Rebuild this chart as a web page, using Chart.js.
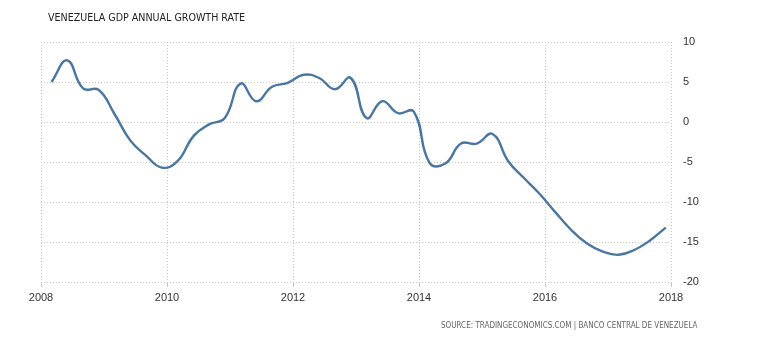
<!DOCTYPE html>
<html>
<head>
<meta charset="utf-8">
<script src="https://cdn.jsdelivr.net/npm/chart.js@4/dist/chart.umd.min.js"></script>
<style>
  html, body { margin: 0; padding: 0; background: #fff; }
  #wrap { position: relative; width: 770px; height: 340px; }
  #title {
    position: absolute; left: 48px; top: 11px;
    font: 10.6px "DejaVu Sans Condensed", "DejaVu Sans", sans-serif;
    color: #222; white-space: nowrap;
  }
  #source {
    position: absolute; left: 441px; top: 321px;
    font: 8px "DejaVu Sans Condensed", "DejaVu Sans", sans-serif;
    color: #666; white-space: nowrap;
  }
</style>
</head>
<body>
<div id="wrap">
  <canvas id="chart" width="770" height="340"></canvas>
  <div id="title">VENEZUELA GDP ANNUAL GROWTH RATE</div>
  <div id="source">SOURCE: TRADINGECONOMICS.COM | BANCO CENTRAL DE VENEZUELA</div>
</div>
<script>
// Quarterly periods (month of observation) and year-on-year GDP growth, %
const periods = [
  '2008-03','2008-06','2008-09','2008-12',
  '2009-03','2009-06','2009-09','2009-12',
  '2010-03','2010-06','2010-09','2010-12',
  '2011-03','2011-06','2011-09','2011-12',
  '2012-03','2012-06','2012-09','2012-12',
  '2013-03','2013-06','2013-09','2013-12',
  '2014-03','2014-06','2014-09','2014-12',
  '2015-03','2015-06','2015-09','2015-12',
  '2016-03','2016-06','2016-09','2016-12',
  '2017-03','2017-06','2017-09','2017-12'
];
const growth = [
  5.0, 7.7, 4.2, 4.0,
  1.0, -2.3, -4.2, -5.7,
  -4.9, -1.8, -0.3, 0.5,
  4.8, 2.6, 4.4, 4.9,
  5.9, 5.5, 4.1, 5.5,
  0.5, 2.6, 1.1, 1.3,
  -5.1, -5.2, -2.7, -2.7,
  -1.5, -4.9, -7.0, -9.0,
  -11.3, -13.5, -15.2, -16.2,
  -16.6, -16.0, -14.8, -13.2
];
const yearTicks = [2008, 2010, 2012, 2014, 2016, 2018];
const valueTicks = [-20, -15, -10, -5, 0, 5, 10];

// decimal year at the first day of each period's month
const toYear = p => {
  const [y, m] = p.split('-').map(Number);
  return y + (m - 1) / 12;
};
const points = periods.map((p, i) => ({ x: toYear(p), y: growth[i] }));

const gridColor = '#c8c8c8';
const tickFont = { family: '"Liberation Sans", Arial, sans-serif', size: 11 };

new Chart(document.getElementById('chart'), {
  type: 'line',
  data: {
    datasets: [{
      data: points,
      borderColor: '#4a76a0',
      borderWidth: 2.4,
      pointRadius: 0,
      tension: 0.45,
      fill: false
    }]
  },
  options: {
    responsive: false,
    animation: false,
    layout: { padding: { left: 41, top: 42, right: 0, bottom: 0 } },
    plugins: { legend: { display: false }, tooltip: { enabled: false } },
    scales: {
      x: {
        type: 'linear',
        min: yearTicks[0],
        max: yearTicks[yearTicks.length - 1],
        afterBuildTicks: s => { s.ticks = yearTicks.map(v => ({ value: v })); },
        afterFit: s => { s.height = 58; },
        grid: { color: gridColor, lineWidth: 1, tickLength: 5 },
        border: { display: false, dash: [1, 2] },
        ticks: { color: '#333', font: tickFont, padding: 4, maxRotation: 0, callback: v => String(v) }
      },
      y: {
        position: 'right',
        min: valueTicks[0],
        max: valueTicks[valueTicks.length - 1],
        afterBuildTicks: s => { s.ticks = valueTicks.map(v => ({ value: v })); },
        afterFit: s => { s.width = 99; },
        grid: { color: gridColor, lineWidth: 1, drawTicks: false },
        border: { display: false, dash: [1, 2] },
        ticks: { color: '#333', font: tickFont, padding: 12, callback: v => String(v) }
      }
    }
  }
});
</script>
</body>
</html>
